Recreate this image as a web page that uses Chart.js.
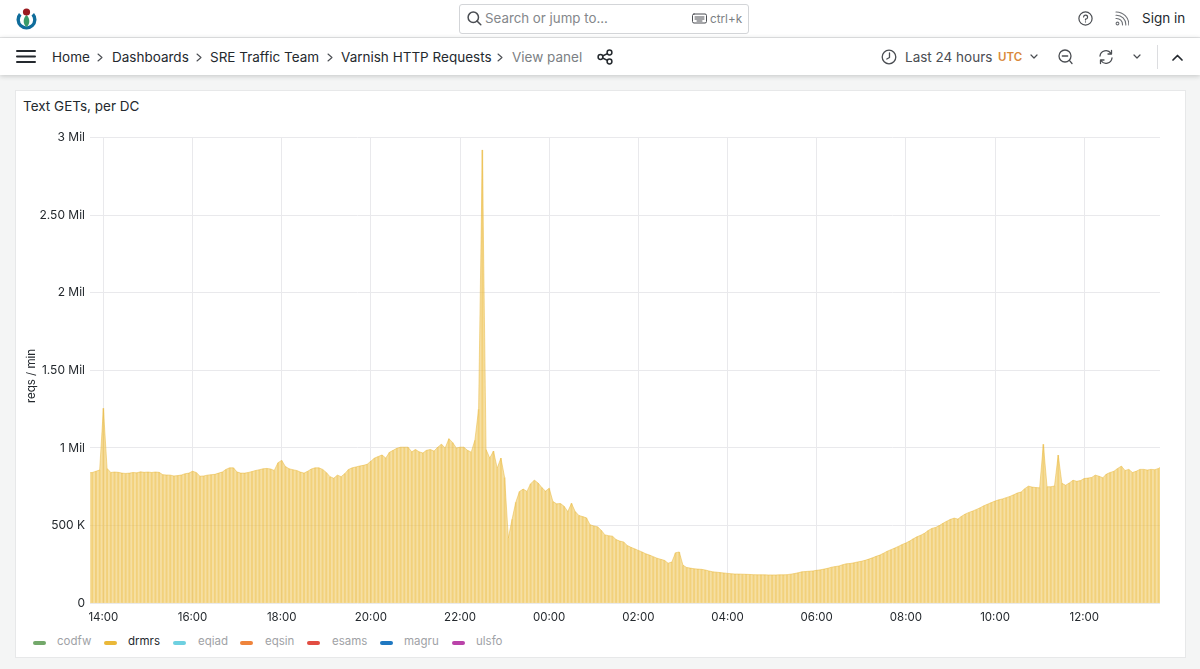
<!DOCTYPE html>
<html>
<head>
<meta charset="utf-8">
<title>Text GETs, per DC</title>
<script src="https://cdn.jsdelivr.net/npm/chart.js@4"></script>
<style>
html, body { margin: 0; padding: 0; width: 1200px; height: 669px; overflow: hidden; background: #f4f5f5; font-family: Inter, "Noto Sans", sans-serif; color: #24292e; }
.bar { position: absolute; left: 0; width: 1200px; background: #fff; }
#top { top: 0; height: 37px; border-bottom: 1px solid #e6e7e8; }
#nav { top: 38px; height: 37px; box-shadow: 0 1px 5px rgba(24,26,27,.22); }
.t { position: absolute; font-size: 13.5px; line-height: 18px; white-space: nowrap; }
.grey { color: #7c7f84; }
svg.i { position: absolute; fill: none; stroke: #4a4d52; stroke-width: 1.5; stroke-linecap: round; stroke-linejoin: round; }
#search { position: absolute; left: 459px; top: 4px; width: 288px; height: 28px; border: 1px solid #d3d5d8; border-radius: 3px; background: #fff; }
#panel { position: absolute; left: 15px; top: 90px; width: 1169px; height: 566px; background: #fff; border: 1px solid #e7e8e9; }
#wrap { position: absolute; left: 0; top: 30px; width: 1169px; height: 510px; }
#legend span.k { position: absolute; top: 641px; width: 13px; height: 4px; border-radius: 2px; }
#legend span.n { position: absolute; top: 633px; font-size: 11.5px; line-height: 16px; color: #a0a2a6; }
#ytitle { position: absolute; left: 31px; top: 376px; font-size: 11.5px; line-height: 14px; white-space: nowrap; transform: translate(-50%, -50%) rotate(-90deg); }
</style>
</head>
<body>
<div class="bar" id="top"></div>
<div class="bar" id="nav"></div>

<svg class="i" style="left:15px;top:7px;stroke:none" width="23" height="24" viewBox="0 0 23 24">
  <path d="M4 6 A10 10 0 1 0 19 6 L16.5 8.5 A6.6 6.6 0 1 1 6.5 8.5 Z" style="fill:#0f6c9b"/>
  <path d="M11.5 8 C15 11 15.5 17 11.5 20 C7.5 17 8 11 11.5 8 Z" style="fill:#399a68"/>
  <circle cx="11.5" cy="5" r="3.6" style="fill:#9a1a1f"/>
</svg>

<div id="search"></div>
<svg class="i" style="left:467px;top:11px" width="15" height="15" viewBox="0 0 15 15"><circle cx="6.3" cy="6.3" r="5.2"/><path d="M10 10 L13.8 13.8"/></svg>
<span class="t grey" style="left:485px;top:9px;font-size:13.3px;color:#84878b">Search or jump to...</span>
<svg class="i" style="left:692px;top:13px;stroke-width:1" width="15" height="11" viewBox="0 0 15 11"><rect x=".5" y="1" width="14" height="9" rx="1.5"/><path d="M3 4 H12 M3 6 H12 M5 8 H10"/></svg>
<span class="t grey" style="left:710px;top:10px;font-size:11.7px">ctrl+k</span>

<svg class="i" style="left:1078px;top:11px;stroke-width:1.2" width="15" height="15" viewBox="0 0 15 15"><circle cx="7.5" cy="7.5" r="6.6"/><path d="M5.6 6 A2 2 0 1 1 7.5 8.2 V9 M7.5 10.8 V11"/></svg>
<svg class="i" style="left:1115px;top:11px;stroke-width:1.1;stroke:#6c6f74" width="14" height="15" viewBox="0 0 14 15"><circle cx="2.5" cy="12.5" r="1.4"/><path d="M1 7.5 A6 6 0 0 1 7.5 14 M1 4.2 A9.3 9.3 0 0 1 10.8 14 M1 1 A12.5 12.5 0 0 1 13.8 14"/></svg>
<span class="t" style="left:1142px;top:9px">Sign in</span>

<svg class="i" style="left:16px;top:49px;stroke-width:2;stroke:#24292e" width="20" height="15" viewBox="0 0 20 15"><path d="M1 2 H19 M1 7.5 H19 M1 13 H19"/></svg>
<span class="t" style="left:52px;top:48px">Home</span>
<span class="t" style="left:112px;top:48px">Dashboards</span>
<span class="t" style="left:210px;top:48px">SRE Traffic Team</span>
<span class="t" style="left:341px;top:48px">Varnish HTTP Requests</span>
<span class="t grey" style="left:512px;top:48px">View panel</span>
<svg class="i" style="left:97px;top:53px;stroke-width:1.1" width="6" height="9" viewBox="0 0 6 9"><path d="M1 1 L5 4.5 L1 8"/></svg>
<svg class="i" style="left:196px;top:53px;stroke-width:1.1" width="6" height="9" viewBox="0 0 6 9"><path d="M1 1 L5 4.5 L1 8"/></svg>
<svg class="i" style="left:327px;top:53px;stroke-width:1.1" width="6" height="9" viewBox="0 0 6 9"><path d="M1 1 L5 4.5 L1 8"/></svg>
<svg class="i" style="left:497px;top:53px;stroke-width:1.1" width="6" height="9" viewBox="0 0 6 9"><path d="M1 1 L5 4.5 L1 8"/></svg>
<svg class="i" style="left:597px;top:49px;stroke:#24292e" width="16" height="16" viewBox="0 0 16 16"><circle cx="3.5" cy="8" r="2.4"/><circle cx="12.5" cy="3.5" r="2.4"/><circle cx="12.5" cy="12.5" r="2.4"/><path d="M5.6 7 L10.4 4.6 M5.6 9 L10.4 11.4"/></svg>

<svg class="i" style="left:881px;top:49px;stroke-width:1.3" width="16" height="16" viewBox="0 0 16 16"><circle cx="8" cy="8" r="6.8"/><path d="M8.5 4 V8.5 L5.8 10"/></svg>
<span class="t" style="left:905px;top:48px;color:#4a4d52">Last 24 hours</span>
<span class="t" style="left:998px;top:48px;font-size:11.5px;font-weight:600;color:#d9893b">UTC</span>
<svg class="i" style="left:1030px;top:54px;stroke-width:1.2" width="8" height="6" viewBox="0 0 8 6"><path d="M1 1 L4 4 L7 1"/></svg>
<svg class="i" style="left:1058px;top:49px;stroke-width:1.3" width="15" height="16" viewBox="0 0 15 16"><circle cx="7" cy="7" r="6"/><path d="M4.3 7 H9.7 M11.4 11.4 L14 14.5"/></svg>
<svg class="i" style="left:1098px;top:49px;stroke-width:1.3" width="16" height="16" viewBox="0 0 16 16"><path d="M2 7 A6 6 0 0 1 13 4.5 M14 9 A6 6 0 0 1 3 11.5 M13.5 1.5 V5 H10 M2.5 14.5 V11 H6"/></svg>
<svg class="i" style="left:1133px;top:54px;stroke-width:1.2" width="8" height="6" viewBox="0 0 8 6"><path d="M1 1 L4 4 L7 1"/></svg>
<div style="position:absolute;left:1157px;top:45px;width:1px;height:24px;background:#dcdde0"></div>
<svg class="i" style="left:1172px;top:54px;stroke-width:1.7;stroke:#24292e" width="11" height="7" viewBox="0 0 11 7"><path d="M1 6 L5.5 1.5 L10 6"/></svg>

<div id="panel">
  <span class="t" style="left:7px;top:6px">Text GETs, per DC</span>
  <div id="wrap"><canvas id="chart"></canvas></div>
</div>
<span id="ytitle">reqs / min</span>
<div id="legend"></div>

<script>
// values, thousands of requests per minute
// one value every 5 minutes, starting at 13:40
var drmrs = [
  840, 842, 850, 858, 1256, 868, 842, 845, 843, 838,
  836, 838, 842, 840, 846, 843, 845, 842, 845, 843,
  828, 826, 825, 820, 822, 826, 834, 838, 850, 842,
  818, 820, 825, 828, 830, 838, 845, 862, 872, 872,
  845, 838, 838, 842, 848, 855, 860, 866, 868, 865,
  855, 905, 920, 880, 866, 860, 855, 845, 838, 850,
  865, 872, 872, 862, 842, 815, 805, 825, 815, 835,
  862, 872, 878, 884, 888, 895, 915, 935, 945, 955,
  935, 972, 985, 998, 1005, 1005, 1005, 975, 990, 975,
  968, 985, 990, 980, 1005, 1024, 1000, 1060, 1035, 1000,
  1005, 1005, 985, 973, 1050, 1250, 2920, 990, 935, 980,
  870, 935, 810, 420, 540, 650, 720, 735, 720, 770,
  792, 775, 745, 722, 740, 655, 640, 642, 625, 590,
  644, 590, 565, 558, 550, 505, 498, 492, 470, 440,
  435, 432, 410, 400, 395, 372, 360, 350, 340, 330,
  318, 310, 300, 290, 283, 276, 258, 265, 325, 330,
  245, 230, 226, 222, 220, 218, 214, 208, 202, 200,
  197, 195, 192, 190, 188, 188, 187, 186, 185, 184,
  183, 183, 183, 182, 182, 182, 183, 183, 184, 187,
  191, 196, 202, 204, 206, 208, 212, 215, 220, 225,
  232, 236, 240, 248, 254, 256, 260, 266, 270, 276,
  284, 292, 302, 310, 322, 335, 345, 355, 366, 378,
  388, 400, 415, 428, 438, 450, 468, 482, 488, 500,
  515, 528, 540, 548, 542, 560, 575, 585, 594, 604,
  615, 628, 638, 648, 658, 666, 672, 680, 688, 698,
  710, 716, 738, 754, 748, 745, 743, 1024, 750, 750,
  755, 954, 772, 760, 775, 792, 785, 790, 803, 806,
  810, 825, 818, 808, 832, 842, 850, 868, 883, 855,
  862, 842, 850, 862, 862, 858, 862, 860, 868, 883
];
var yTicks = [0, 500, 1000, 1500, 2000, 2500, 3000];
var yLabels = ['0', '500 K', '1 Mil', '1.50 Mil', '2 Mil', '2.50 Mil', '3 Mil'];
var xTicks = [840, 960, 1080, 1200, 1320, 1440, 1560, 1680, 1800, 1920, 2040, 2160];
var xLabels = ['14:00', '16:00', '18:00', '20:00', '22:00', '00:00', '02:00', '04:00', '06:00', '08:00', '10:00', '12:00'];
var seriesNames = ['codfw', 'drmrs', 'eqiad', 'eqsin', 'esams', 'magru', 'ulsfo'];
var seriesColors = ['#73a86a', '#eab839', '#6ed0e0', '#ef843c', '#e24d42', '#1f78c1', '#ba43a9'];
var legendSwatchX = [33, 104, 173, 240, 307, 380, 452];
var legendTextX = [57, 128, 198, 265, 332, 404, 476];

var firstMinute = 820, stepMinutes = 5;
var points = drmrs.map(function (v, i) {
    return { x: firstMinute + i * stepMinutes, y: v };
});

var legend = document.getElementById('legend');
seriesNames.forEach(function (name, i) {
    var k = document.createElement('span');
    k.className = 'k';
    k.style.left = legendSwatchX[i] + 'px';
    k.style.background = seriesColors[i];
    legend.appendChild(k);
    var n = document.createElement('span');
    n.className = 'n';
    n.textContent = name;
    n.style.left = legendTextX[i] + 'px';
    if (name === 'drmrs') n.style.color = '#24292e';
    legend.appendChild(n);
});

Chart.defaults.font.family = 'Inter, "Noto Sans", sans-serif';
Chart.defaults.font.size = 12;
Chart.defaults.color = '#24292e';

var ctx = document.getElementById('chart').getContext('2d');
var myChart = new Chart(ctx, {
    type: 'line',
    data: {
        datasets: [{
            type: 'bar',
            label: 'drmrs stripes',
            data: points,
            backgroundColor: 'rgba(234,184,57,0.38)',
            borderWidth: 0,
            barPercentage: 0.5,
            categoryPercentage: 1
        }, {
            label: 'drmrs',
            data: points,
            borderColor: 'rgba(234,184,57,0.5)',
            backgroundColor: 'rgba(240,200,95,0.58)',
            borderWidth: 1,
            pointRadius: 0,
            tension: 0,
            fill: 'origin'
        }]
    },
    options: {
        responsive: true,
        maintainAspectRatio: false,
        animation: false,
        plugins: { legend: { display: false }, tooltip: { enabled: false } },
        layout: { padding: { top: 16.5, right: 25, bottom: 0, left: 0 } },
        scales: {
            x: {
                type: 'linear',
                offset: false,
                min: 822,
                max: 2262,
                afterBuildTicks: function (axis) {
                    axis.ticks = xTicks.map(function (v) { return { value: v }; });
                },
                grid: { color: '#e9e9ec', drawTicks: false, offset: false },
                border: { display: false },
                ticks: {
                    autoSkip: false,
                    maxRotation: 0,
                    padding: 7,
                    font: { size: 11.5 },
                    callback: function (v) { return xLabels[xTicks.indexOf(v)]; }
                }
            },
            y: {
                min: 0,
                max: 3000,
                afterBuildTicks: function (axis) {
                    axis.ticks = yTicks.map(function (v) { return { value: v }; });
                },
                afterFit: function (axis) { axis.width = 74; },
                grid: { color: '#e9e9ec', drawTicks: false },
                border: { display: false },
                ticks: {
                    padding: 5,
                    callback: function (v) { return yLabels[yTicks.indexOf(v)]; }
                }
            }
        }
    }
});
</script>
</body>
</html>
